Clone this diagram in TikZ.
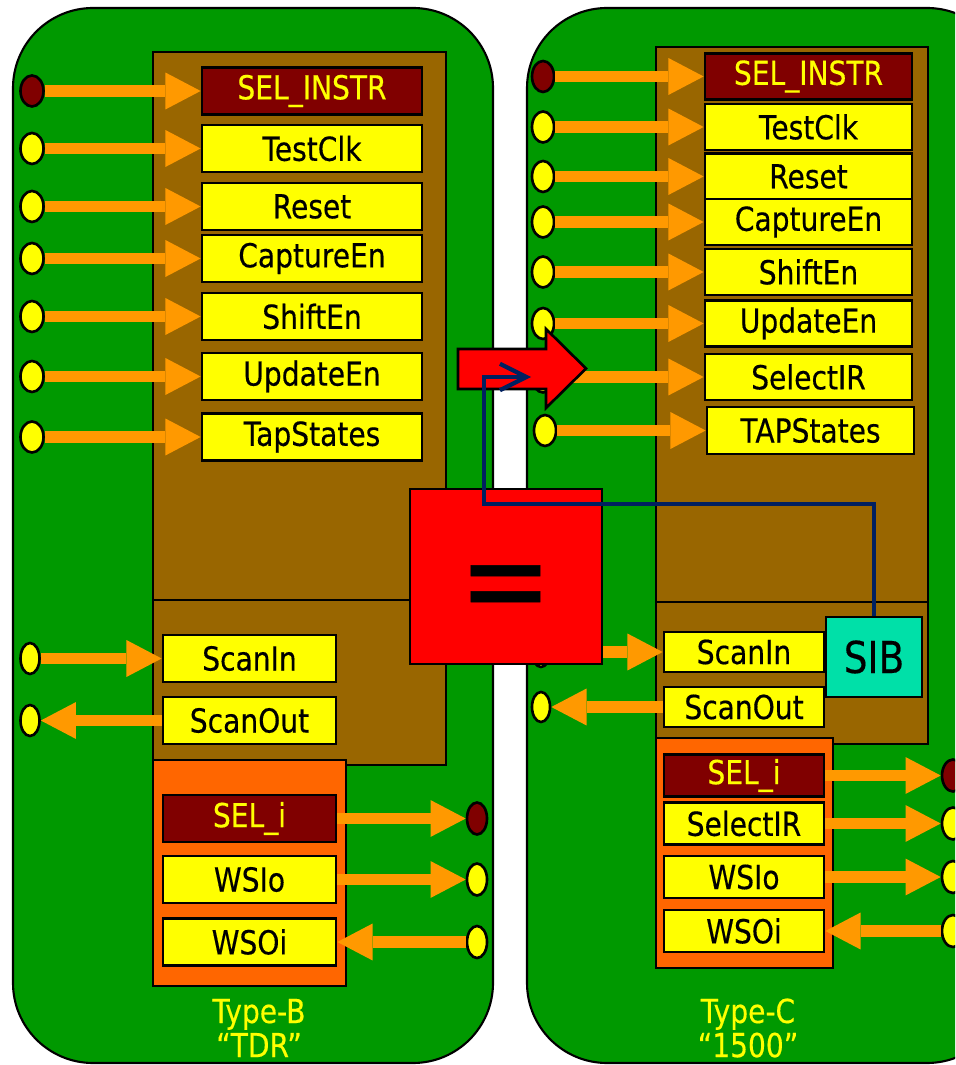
\documentclass[tikz,border=0pt]{standalone}
\usepackage{fontspec}
\setmainfont[FakeStretch=0.85,FakeBold=0.35]{DejaVu Sans}
\usepackage{tikz}
\usetikzlibrary{arrows.meta,shapes.geometric}
\usepackage{xcolor}
\definecolor{board}{HTML}{009900}
\definecolor{tapbox}{HTML}{996600}
\definecolor{wsibox}{HTML}{FF6600}
\definecolor{sigyel}{HTML}{FFFF00}
\definecolor{selred}{HTML}{800000}
\definecolor{wireor}{HTML}{FF9900}
\definecolor{sibcol}{HTML}{00E0A8}
\definecolor{navyln}{HTML}{002060}

\begin{document}
\begin{tikzpicture}[x=0.01cm,y=-0.01cm,font=\fontsize{9.4}{10}\selectfont,
  sig/.style={draw,line width=0.75pt,fill=sigyel,inner sep=0pt,minimum height=0.47cm},
  sigL/.style={sig,minimum width=2.2cm},
  sigR/.style={sig,minimum width=2.07cm,minimum height=0.46cm},
  sigS/.style={sig,minimum width=1.73cm},
  sigT/.style={sig,minimum width=1.6cm,minimum height=0.42cm},
  sel/.style={fill=selred,text=sigyel},
  pin/.style={ellipse,draw,line width=0.75pt,fill=sigyel,inner sep=0pt,minimum width=0.23cm,minimum height=0.31cm},
  selpin/.style={pin,fill=selred},
  wire/.style={wireor,line width=3.2pt,-{Triangle[length=10pt,width=10.5pt,line width=0pt]}},
  lbl/.style={text=sigyel,align=center,font=\fontsize{9.4}{9.7}\selectfont}]
\useasboundingbox (0,0) rectangle (955,1065);
\clip (0,0) rectangle (955,1065);
\draw[line width=0.6pt,fill=board,rounded corners=0.8cm] (13,8) rectangle (493,1063);
\draw[line width=0.6pt,fill=board,rounded corners=0.8cm] (527,8) rectangle (1007,1063);
\draw[line width=0.75pt,fill=tapbox] (153,52) rectangle (446,765);
\draw[line width=0.75pt] (153,600) -- (446,600);
\draw[line width=0.75pt,fill=tapbox] (656,47) rectangle (928,744);
\draw[line width=0.75pt] (656,602) -- (928,602);
\draw[line width=0.75pt,fill=wsibox] (153,760) rectangle (346,986);
\draw[line width=0.75pt,fill=wsibox] (656,738) rectangle (833,968);

\node[sigL,sel] (Lsel) at (312,91) {SEL\_INSTR};
\node[selpin] (Lpsel) at (32,91) {};
\draw[wire] (Lpsel) -- (Lsel);
\foreach \nm/\txt/\y in {tck/TestClk/148.5,rst/Reset/206.5,cap/CaptureEn/258.5,shf/ShiftEn/316.5,upd/UpdateEn/376.5,tap/TapStates/437}{
  \node[sigL] (L\nm) at (312,\y) {\txt};
  \node[pin] (Lp\nm) at (32,\y) {};
  \draw[wire] (Lp\nm) -- (L\nm);
}
\node[sigS] (Lsin) at (249.5,658.5) {ScanIn};
\node[sigS] (Lsout) at (249.5,720.5) {ScanOut};
\node[pin,minimum width=0.19cm] (Lpsin) at (30,658.5) {};
\node[pin,minimum width=0.19cm] (Lpsout) at (30,720.5) {};
\draw[wire] (Lpsin) -- (Lsin);
\draw[wire] (Lsout) -- (Lpsout);
\node[sigS,sel] (Lseli) at (249.5,818.5) {SEL\_i};
\node[sigS] (Lwsio) at (249.5,879.5) {WSIo};
\node[sigS] (Lwsoi) at (249.5,942) {WSOi};
\node[selpin,minimum width=0.2cm,minimum height=0.32cm] (Lpseli) at (477,818.5) {};
\node[pin,minimum width=0.2cm,minimum height=0.32cm] (Lpwsio) at (477,879.5) {};
\node[pin,minimum width=0.2cm,minimum height=0.32cm] (Lpwsoi) at (477,942) {};
\draw[wire] (Lseli) -- (Lpseli);
\draw[wire] (Lwsio) -- (Lpwsio);
\draw[wire] (Lpwsoi) -- (Lwsoi);
\node[lbl] (typeB) at (259,1028) {Type-B\\“TDR”};

\node[sigR,sel] (Rsel) at (808.5,76.5) {SEL\_INSTR};
\node[selpin,minimum width=0.22cm] (Rpsel) at (543,76.5) {};
\draw[wire] (Rpsel) -- (Rsel);
\foreach \nm/\txt/\y in {tck/TestClk/127,rst/Reset/176.5,cap/CaptureEn/222,shf/ShiftEn/272,upd/UpdateEn/323.5,sir/SelectIR/377}{
  \node[sigR] (R\nm) at (808.5,\y) {\txt};
  \node[pin,minimum width=0.22cm] (Rp\nm) at (543,\y) {};
  \draw[wire] (Rp\nm) -- (R\nm);
}
\node[sigR,minimum height=0.47cm] (Rtap) at (810.5,430.5) {TAPStates};
\node[pin,minimum width=0.22cm] (Rptap) at (545,430.5) {};
\draw[wire] (Rptap) -- (Rtap);
\node[sigT,minimum height=0.4cm] (Rsin) at (744,652) {ScanIn};
\node[sigT,minimum height=0.4cm] (Rsout) at (744,707) {ScanOut};
\node[pin,minimum width=0.18cm,minimum height=0.3cm] (Rpsin) at (541,652) {};
\node[pin,minimum width=0.18cm,minimum height=0.3cm] (Rpsout) at (541,707) {};
\draw[wire] (Rpsin) -- (Rsin);
\draw[wire] (Rsout) -- (Rpsout);
\node[draw,line width=0.75pt,fill=sibcol,inner sep=0pt,minimum width=0.96cm,minimum height=0.8cm,font=\fontsize{12.5}{13}\selectfont] (sib) at (874,657) {SIB};
\node[sigT,sel] (Rseli) at (744,775.5) {SEL\_i};
\node[sigT] (Rsir2) at (744,823.5) {SelectIR};
\node[sigT] (Rwsio) at (744,877) {WSIo};
\node[sigT] (Rwsoi) at (744,931) {WSOi};
\node[selpin,minimum width=0.22cm,minimum height=0.32cm] (Rpseli) at (953,775.5) {};
\node[pin,minimum width=0.22cm,minimum height=0.32cm] (Rpsir2) at (953,823.5) {};
\node[pin,minimum width=0.22cm,minimum height=0.32cm] (Rpwsio) at (953,877) {};
\node[pin,minimum width=0.22cm,minimum height=0.32cm] (Rpwsoi) at (953,931) {};
\draw[wire] (Rseli) -- (Rpseli);
\draw[wire] (Rsir2) -- (Rpsir2);
\draw[wire] (Rwsio) -- (Rpwsio);
\draw[wire] (Rpwsoi) -- (Rwsoi);
\node[lbl] (typeC) at (748,1028) {Type-C\\“1500”};

\draw[line width=0.75pt,fill=red] (458,349) -- (546,349) -- (546,329) -- (586,368.5) -- (546,408) -- (546,389) -- (458,389) -- cycle;
\node[draw,line width=0.75pt,fill=red,minimum width=1.92cm,minimum height=1.75cm] (eqbox) at (506,576.5) {};
\node[inner sep=0pt,font=\fontsize{37}{37}\selectfont] (eqsign) at (505.5,595) {=};
\coordinate (hit) at (531,377);
\draw[navyln,line width=1.2pt,-{Straight Barb[length=7.5pt,width=7.5pt]}] (sib.north) |- (484,504) |- (hit);
\end{tikzpicture}
\end{document}
